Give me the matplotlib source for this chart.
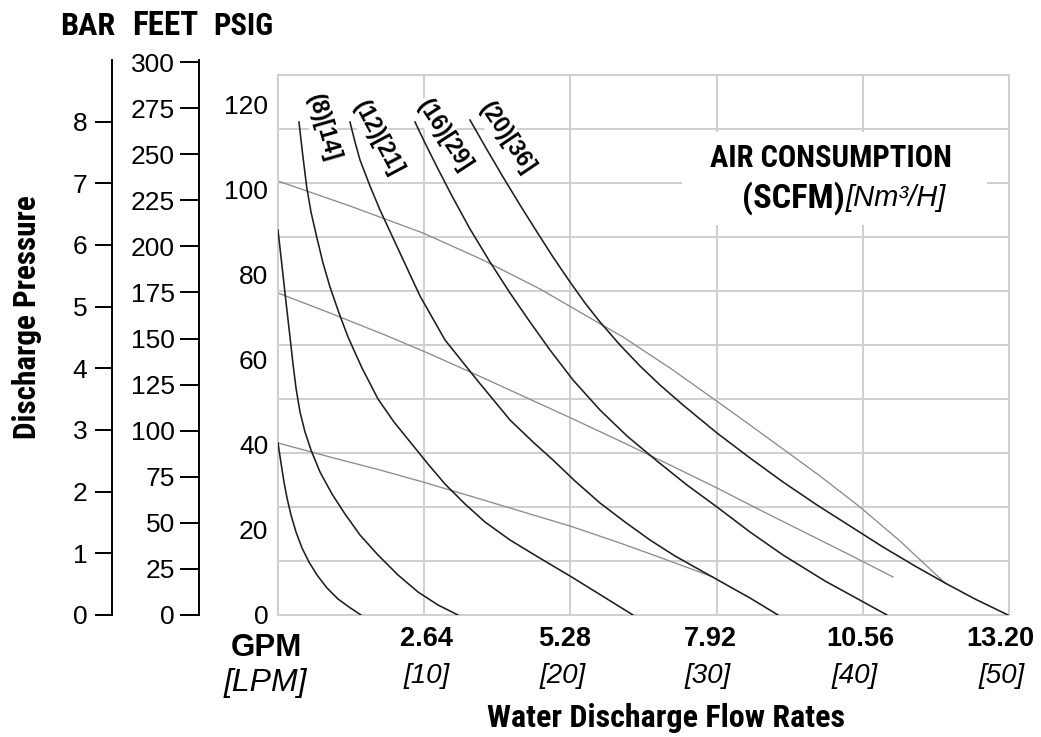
import numpy as np
import matplotlib
matplotlib.use("Agg")
import matplotlib.pyplot as plt
from matplotlib import font_manager
from matplotlib.patches import Rectangle

plt.rcParams["font.family"] = ["Liberation Sans", "DejaVu Sans"]
avail = {f.name for f in font_manager.fontManager.ttflist}
NARROW = next((n for n in ["Liberation Sans Narrow", "Arial Narrow",
                           "DejaVu Sans Condensed", "Roboto Condensed"]
               if n in avail), "Liberation Sans")

# ---- data (x in LPM, y in PSIG) ----
lpm_ticks = [10, 20, 30, 40, 50]
gpm_labels = ["2.64", "5.28", "7.92", "10.56", "13.20"]
lpm_labels = ["[10]", "[20]", "[30]", "[40]", "[50]"]
psi_ticks = [0, 20, 40, 60, 80, 100, 120]
bar_ticks = [0, 1, 2, 3, 4, 5, 6, 7, 8]
feet_ticks = [0, 25, 50, 75, 100, 125, 150, 175, 200, 225, 250, 275, 300]

# air consumption curves (black)
air_a_x = [0, 0.205, 0.41, 0.616, 0.889, 1.231, 1.642, 2.12, 2.668, 3.352,
           4.104, 4.856, 5.677]
air_a_y = [40.45, 35.75, 31.28, 27.52, 23.52, 19.52, 15.76, 12.46, 9.41, 6.35,
           3.76, 1.88, 0]
air_b_x = [0, 0.274, 0.547, 0.821, 1.026, 1.231, 1.505, 1.847, 2.257, 2.873,
           3.694, 4.583, 5.609, 6.84, 8.208, 9.576, 10.944, 12.312]
air_b_y = [90.55, 82.08, 73.61, 65.38, 59.03, 53.39, 47.74, 43.04, 38.81, 33.63,
           28.46, 23.75, 18.81, 14.11, 9.41, 5.41, 2.35, 0]
air_8_x = [1.436, 1.676, 1.963, 2.257, 2.647, 3.078, 3.557, 4.172, 4.788, 5.746,
           6.84, 7.934, 9.097, 10.26, 11.423, 12.791, 14.159, 15.869, 17.784,
           19.973, 22.298, 24.282]
air_8_y = [115.94, 108.65, 100.66, 94.78, 88.9, 82.78, 77.14, 71.02, 65.38, 58.09,
           50.8, 45.39, 40.45, 35.51, 30.81, 26.11, 21.87, 17.64, 13.64,
           9.17, 4.23, 0]
air_12_x = [4.925, 5.267, 5.609, 6.293, 6.977, 8.345, 9.713, 11.423, 13.611,
            15.869, 17.442, 18.81, 20.315, 22.025, 23.735, 25.445, 27.155,
            28.865, 30.575, 32.285, 34.2]
air_12_y = [115.94, 111.24, 107.01, 100.89, 95.25, 85.14, 75.02, 64.68, 55.27,
            45.86, 40.69, 36.45, 31.51, 26.34, 21.87, 17.64, 13.88,
            10.58, 7.29, 4.0, 0]
air_16_x = [9.371, 10.055, 10.876, 11.902, 13.133, 14.501, 15.869, 17.237,
            18.605, 20.178, 22.025, 23.871, 25.923, 27.975, 30.027, 32.285,
            34.542, 37.415, 40.287, 41.655]
air_16_y = [115.94, 111.01, 105.36, 98.54, 90.78, 83.02, 75.73, 68.91,
            62.32, 55.27, 48.21, 42.1, 36.22, 30.57, 25.4, 19.52,
            14.11, 8.0, 2.59, 0]
air_20_x = [13.133, 14.227, 15.39, 16.553, 17.715, 18.81, 19.973, 20.999,
            22.025, 23.393, 24.761, 26.129, 27.702, 30.027, 32.285, 34.542,
            36.867, 39.124, 41.382, 43.571, 45.623, 47.675, 49.932]
air_20_y = [116.42, 109.83, 103.01, 96.43, 90.08, 84.2, 78.32, 73.38,
            68.91, 63.5, 58.56, 54.09, 49.39, 42.8, 36.92, 31.28,
            25.87, 20.93, 15.99, 11.52, 7.53, 3.76, 0]

# inlet air pressure lines (grey)
press_hi_x = [0, 4.925, 9.918, 14.022, 17.921, 23.598, 26.813, 30.096, 32.285,
              34.542, 37.073, 39.808, 42.544, 45.623]
press_hi_y = [102.07, 96.19, 89.84, 83.49, 76.67, 65.38, 58.09, 50.09, 44.68,
              39.04, 32.69, 25.4, 17.4, 7.53]
press_mid_x = [0, 3.557, 7.456, 10.397, 13.611, 16.895, 20.178, 23.393, 26.813,
               30.027, 32.969, 35.705, 39.125, 42.066]
press_mid_y = [75.73, 71.02, 65.66, 61.38, 56.44, 51.27, 46.1, 40.92, 35.28,
               29.87, 24.69, 19.99, 14.11, 8.94]
press_lo_x = [0, 3.557, 6.977, 9.918, 13.133, 16.553, 19.973, 23.393, 26.608,
              29.754]
press_lo_y = [40.45, 37.16, 34.1, 31.28, 27.99, 24.46, 20.93, 16.93, 12.94, 8.94]

curve_labels = ["(8)[14]", "(12)[21]", "(16)[29]", "(20)[36]"]

PSI_PER_BAR = 14.5038
PSI_PER_FOOT = 0.4335
PSI_TOP = 127.0

W, H = 1041, 737


def fx(px):
    return px / W


def fy(py):
    return 1 - py / H


fig = plt.figure(figsize=(W / 100, H / 100), dpi=100)
fig.patch.set_facecolor("white")

# main plot area
ax = fig.add_axes([fx(278), fy(615), (1009 - 278) / W, (615 - 75) / H])
ax.set_xlim(0, 50)
ax.set_ylim(0, PSI_TOP)
ax.set_axisbelow(True)

grid_c = "#cfcfcf"
ax.set_xticks(lpm_ticks)
ax.set_xticklabels([])
ax.set_yticks(psi_ticks)
ax.set_yticklabels([str(v) for v in psi_ticks], fontsize=19)
ax.set_yticks(np.linspace(0, PSI_TOP, 11), minor=True)
ax.tick_params(axis="both", which="both", length=0)
ax.tick_params(axis="y", pad=7)
ax.xaxis.grid(True, color=grid_c, linewidth=1.4)
ax.yaxis.grid(True, which="minor", color=grid_c, linewidth=1.4)
for s in ax.spines.values():
    s.set_color(grid_c)
    s.set_linewidth(1.4)

# white panel behind the air consumption caption
ax.add_patch(Rectangle((27.6, 91.7), 20.9, 21.9, facecolor="white",
                       edgecolor="none", zorder=1))

for xs, ys in [(press_hi_x, press_hi_y), (press_mid_x, press_mid_y),
               (press_lo_x, press_lo_y)]:
    ax.plot(xs, ys, color="#8c8c8c", linewidth=0.95, zorder=2,
            solid_joinstyle="round")

for xs, ys in [(air_a_x, air_a_y), (air_b_x, air_b_y), (air_8_x, air_8_y),
               (air_12_x, air_12_y), (air_16_x, air_16_y), (air_20_x, air_20_y)]:
    ax.plot(xs, ys, color="#1e1e1e", linewidth=1.15, zorder=3,
            solid_joinstyle="round")

label_pos = [(3.08, 114.6), (6.84, 112.0), (11.42, 112.7), (15.66, 112.2)]
label_rot = [-74, -62, -57, -56]
for txt, (lx, ly), rot in zip(curve_labels, label_pos, label_rot):
    ax.text(lx, ly, txt, rotation=rot, rotation_mode="anchor", ha="center",
            va="center", fontsize=16.5, fontweight="bold", zorder=2.5,
            bbox=dict(facecolor="white", edgecolor="none", pad=1.5))

narrow_fit = []
t = ax.text(46.1, 107.4, "AIR CONSUMPTION", ha="right", va="center",
            fontsize=22.5, fontweight="bold", family=NARROW, zorder=4)
narrow_fit.append((t, 242, False))
t = ax.text(38.78, 98.1, "(SCFM)", ha="right", va="center", fontsize=22.5,
            fontweight="bold", family=NARROW, zorder=4)
narrow_fit.append((t, 103, False))
ax.text(38.85, 98.1, "[Nm³/H]", ha="left", va="center", fontsize=21,
        style="italic", zorder=4)

# x labels: GPM row and LPM row
gpm_cx = [426.5, 565, 710, 860, 1000]
lpm_cx = [427, 563, 708, 855, 1002]
for g, l, gx, lx in zip(gpm_labels, lpm_labels, gpm_cx, lpm_cx):
    fig.text(fx(gx), fy(639), g, ha="center", va="center", fontsize=19.5,
             fontweight="bold")
    fig.text(fx(lx), fy(676), l, ha="center", va="center", fontsize=20,
             style="italic")
fig.text(fx(266), fy(648), "GPM", ha="center", va="center", fontsize=22.5,
         fontweight="bold")
fig.text(fx(265), fy(683), "[LPM]", ha="center", va="center", fontsize=23,
         style="italic")
t = fig.text(fx(666), fy(718), "Water Discharge Flow Rates", ha="center",
             va="center", fontsize=23, fontweight="bold", family=NARROW)
narrow_fit.append((t, 358, False))

# BAR and FEET scales on the left
side_top = PSI_TOP * (615 - 60) / (615 - 75)


def side_axis(px, ticks, factor, tick_len, pad):
    a = fig.add_axes([fx(px), fy(615), 0.0001, (615 - 60) / H])
    a.set_ylim(0, side_top)
    a.patch.set_visible(False)
    for name in ["top", "right", "bottom"]:
        a.spines[name].set_visible(False)
    a.spines["left"].set_linewidth(1.4)
    a.set_xticks([])
    a.set_yticks([t * factor for t in ticks])
    a.set_yticklabels([str(t) for t in ticks], fontsize=19)
    a.tick_params(axis="y", direction="out", length=tick_len, width=1.4,
                  pad=pad)
    return a


side_axis(112, bar_ticks, PSI_PER_BAR, 12.2, 5.5)
side_axis(199, feet_ticks, PSI_PER_FOOT, 13.7, 3.5)

for txt, cx, w in [("BAR", 87.5, 55), ("FEET", 165, 66), ("PSIG", 243, 60)]:
    t = fig.text(fx(cx), fy(26), txt, ha="center", va="center", fontsize=22,
                 fontweight="bold", family=NARROW)
    narrow_fit.append((t, w, False))
t = fig.text(fx(27), fy(317), "Discharge Pressure", rotation=90, ha="center",
             va="center", fontsize=23, fontweight="bold", family=NARROW)
narrow_fit.append((t, 245, True))

# size the condensed captions to the width they take in the chart
fig.canvas.draw()
rend = fig.canvas.get_renderer()
for t, target, vertical in narrow_fit:
    bb = t.get_window_extent(rend)
    size = bb.height if vertical else bb.width
    t.set_fontsize(t.get_fontsize() * target / size)

fig.savefig("out.png", dpi=100, facecolor="white")
